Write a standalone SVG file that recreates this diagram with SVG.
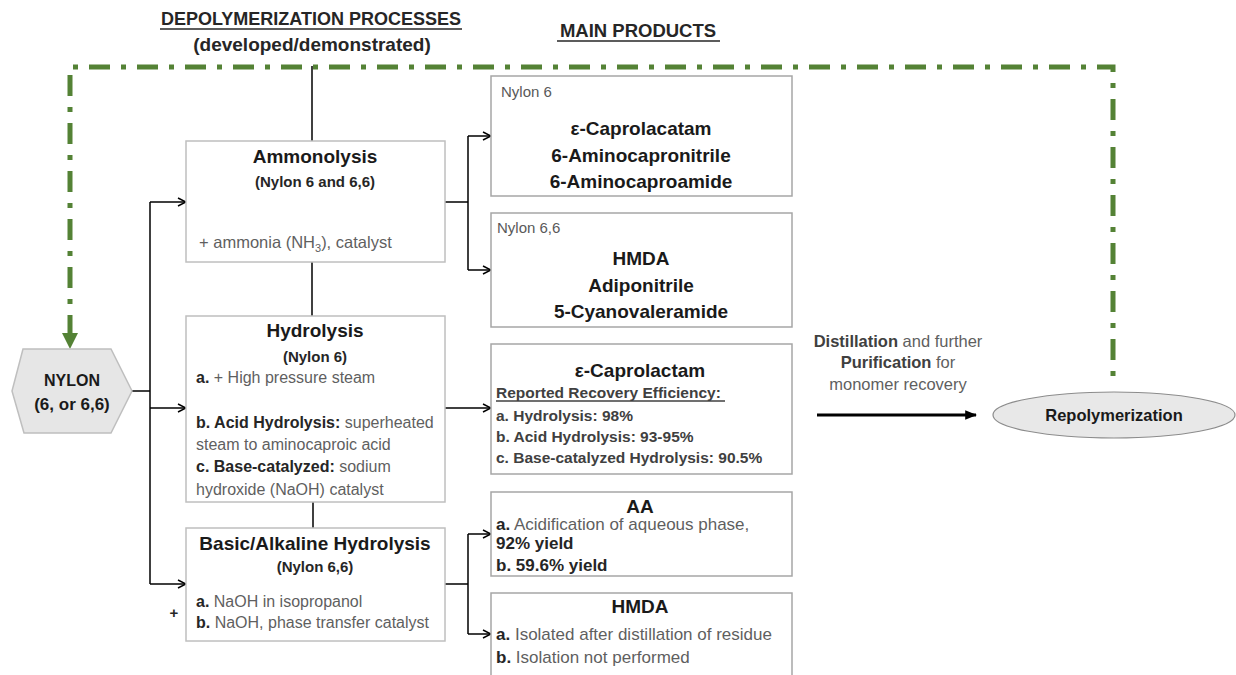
<svg xmlns="http://www.w3.org/2000/svg" width="1236" height="675" viewBox="0 0 1236 675">
<defs>
<style>
text{font-family:"Liberation Sans",Arial,sans-serif}
.hd{font-weight:bold;font-size:18px;fill:#262626;text-anchor:middle}
.box{fill:#fff;stroke:#bfbfbf;stroke-width:1.5}
.pbox{fill:#fff;stroke:#a6a6a6;stroke-width:1.5}
.t{font-weight:bold;font-size:19px;fill:#1a1a1a;text-anchor:middle}
.st{font-weight:bold;font-size:15px;fill:#262626;text-anchor:middle}
.b{font-size:16px;fill:#5f5f5f}
.k{font-weight:bold;fill:#262626}
.lbl{font-size:15px;fill:#595959}
.cn{fill:none;stroke:#000;stroke-width:1.5}
.g{fill:none;stroke:#548235;stroke-width:5;stroke-dasharray:21 11 5 11}
</style>
<marker id="ah" viewBox="0 0 10 10" refX="9" refY="5" markerWidth="10" markerHeight="10" markerUnits="userSpaceOnUse" orient="auto">
<path d="M1,1 L9,5 L1,9" fill="none" stroke="#000" stroke-width="1.5"/>
</marker>
<marker id="fh" viewBox="0 0 10 10" refX="9" refY="5" markerWidth="12" markerHeight="12" markerUnits="userSpaceOnUse" orient="auto">
<path d="M0,1 L10,5 L0,9 Z" fill="#000"/>
</marker>
</defs>
<rect width="1236" height="675" fill="#fff"/>

<g id="headers">
<text class="hd" x="311" y="25">DEPOLYMERIZATION PROCESSES</text>
<line x1="160" y1="29" x2="462" y2="29" stroke="#262626" stroke-width="1.5"/>
<text class="hd" x="312" y="51" style="font-size:19px">(developed/demonstrated)</text>
<text class="hd" x="638" y="37" style="font-size:18.5px">MAIN PRODUCTS</text>
<line x1="557" y1="41" x2="720" y2="41" stroke="#262626" stroke-width="1.5"/>
</g>

<g id="connectors">
<path class="g" d="M70,336 L70,67 L1113,67 L1113,378"/>
<polygon points="62,333 78,333 70,349" fill="#548235"/>
<line class="cn" x1="312" y1="66" x2="312" y2="141"/>
<line class="cn" x1="312" y1="262" x2="312" y2="316"/>
<line class="cn" x1="313" y1="502" x2="313" y2="528"/>
<line class="cn" x1="132" y1="391" x2="150" y2="391"/>
<line class="cn" x1="150" y1="202" x2="150" y2="584"/>
<line class="cn" x1="150" y1="202" x2="186" y2="202" marker-end="url(#ah)"/>
<line class="cn" x1="150" y1="408" x2="186" y2="408" marker-end="url(#ah)"/>
<line class="cn" x1="150" y1="584" x2="186" y2="584" marker-end="url(#ah)"/>
<path class="cn" d="M445,202 L468,202 M468,136 L468,270"/>
<line class="cn" x1="468" y1="136" x2="491" y2="136" marker-end="url(#ah)"/>
<line class="cn" x1="468" y1="270" x2="491" y2="270" marker-end="url(#ah)"/>
<line class="cn" x1="445" y1="408" x2="491" y2="408" marker-end="url(#ah)"/>
<path class="cn" d="M445,584 L468,584 M468,534 L468,634"/>
<line class="cn" x1="468" y1="534" x2="491" y2="534" marker-end="url(#ah)"/>
<line class="cn" x1="468" y1="634" x2="491" y2="634" marker-end="url(#ah)"/>
<line x1="817" y1="415" x2="976" y2="415" stroke="#000" stroke-width="3" marker-end="url(#fh)"/>
</g>

<g id="nylon">
<polygon points="23,349 111,349 132,391 111,433 24,433 12,391" fill="#e6e6e6" stroke="#bfbfbf" stroke-width="1.5"/>
<text class="t" x="72" y="386" style="font-size:16px">NYLON</text>
<text class="t" x="72" y="410" style="font-size:17px">(6, or 6,6)</text>
</g>

<g id="ammonolysis">
<rect class="box" x="186" y="141" width="259" height="121"/>
<text class="t" x="315" y="163">Ammonolysis</text>
<text class="st" x="315" y="187">(Nylon 6 and 6,6)</text>
<text class="b" x="199" y="248" style="font-size:16.5px">+ ammonia (NH<tspan dy="4" style="font-size:11px">3</tspan><tspan dy="-4">), catalyst</tspan></text>
</g>

<g id="hydrolysis">
<rect class="box" x="186" y="316" width="259" height="186"/>
<text class="t" x="315" y="337">Hydrolysis</text>
<text class="st" x="315" y="362">(Nylon 6)</text>
<text class="b" x="196" y="383"><tspan class="k">a.</tspan> + High pressure steam</text>
<text class="b" x="196" y="428"><tspan class="k">b. Acid Hydrolysis:</tspan> superheated</text>
<text class="b" x="196" y="450">steam to aminocaproic acid</text>
<text class="b" x="196" y="472"><tspan class="k">c. Base-catalyzed:</tspan> sodium</text>
<text class="b" x="196" y="495">hydroxide (NaOH) catalyst</text>
</g>

<g id="basic">
<rect class="box" x="186" y="528" width="259" height="113"/>
<text class="t" x="315" y="550">Basic/Alkaline Hydrolysis</text>
<text class="st" x="315" y="572">(Nylon 6,6)</text>
<text class="b" x="196" y="607"><tspan class="k">a.</tspan> NaOH in isopropanol</text>
<text class="b" x="196" y="628"><tspan class="k">b.</tspan> NaOH, phase transfer catalyst</text>
<text x="174" y="618" style="font-size:15px;font-weight:bold;fill:#262626;text-anchor:middle">+</text>
</g>

<g id="products-nylon6">
<rect class="pbox" x="491" y="76" width="301" height="120"/>
<text class="lbl" x="501" y="97">Nylon 6</text>
<text class="t" x="641" y="135">ε-Caprolacatam</text>
<text class="t" x="641" y="162">6-Aminocapronitrile</text>
<text class="t" x="641" y="188">6-Aminocaproamide</text>
</g>

<g id="products-nylon66">
<rect class="pbox" x="491" y="213" width="301" height="114"/>
<text class="lbl" x="497" y="233">Nylon 6,6</text>
<text class="t" x="641" y="265">HMDA</text>
<text class="t" x="641" y="292">Adiponitrile</text>
<text class="t" x="641" y="318">5-Cyanovaleramide</text>
</g>

<g id="caprolactam">
<rect class="pbox" x="491" y="344" width="301" height="130"/>
<text class="t" x="640" y="377">ε-Caprolactam</text>
<g style="font-weight:bold;font-size:15.5px;fill:#404040">
<text x="496" y="398">Reported Recovery Efficiency:</text>
<line x1="496" y1="401" x2="725" y2="401" stroke="#404040" stroke-width="1.3"/>
<text x="496" y="421">a. Hydrolysis: 98%</text>
<text x="496" y="442">b. Acid Hydrolysis: 93-95%</text>
<text x="496" y="463">c. Base-catalyzed Hydrolysis: 90.5%</text>
</g>
</g>

<g id="aa">
<rect class="pbox" x="491" y="492" width="301" height="84"/>
<text class="t" x="640" y="513">AA</text>
<text class="b" x="496" y="530" style="font-size:17px"><tspan class="k">a.</tspan> Acidification of aqueous phase,</text>
<text class="b k" x="496" y="549" style="font-size:17px">92% yield</text>
<text class="b k" x="496" y="571" style="font-size:17px">b. 59.6% yield</text>
</g>

<g id="hmda">
<rect class="pbox" x="491" y="593" width="301" height="100"/>
<text class="t" x="640" y="613">HMDA</text>
<text class="b" x="496" y="640" style="font-size:17px"><tspan class="k">a.</tspan> Isolated after distillation of residue</text>
<text class="b" x="496" y="663" style="font-size:17px"><tspan class="k">b.</tspan> Isolation not performed</text>
</g>

<g id="distillation-label" style="font-size:16.5px;fill:#5f5f5f;text-anchor:middle">
<text x="898" y="347"><tspan class="k" style="fill:#404040">Distillation</tspan> and further</text>
<text x="898" y="368"><tspan class="k" style="fill:#404040">Purification</tspan> for</text>
<text x="898" y="390">monomer recovery</text>
</g>

<g id="repolymerization">
<ellipse cx="1114" cy="415" rx="121" ry="23" fill="#e8e8e8" stroke="#8c8c8c" stroke-width="1.2"/>
<text class="t" x="1114" y="421" style="font-size:16.5px">Repolymerization</text>
</g>
</svg>
